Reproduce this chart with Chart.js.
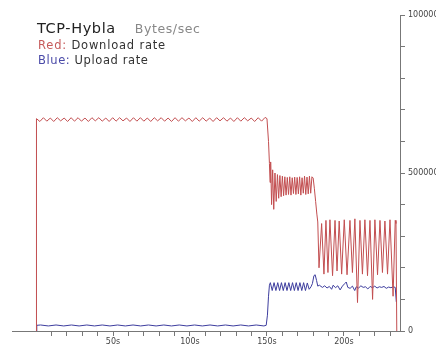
<!DOCTYPE html>
<html>
<head>
<meta charset="utf-8">
<script src="https://cdn.jsdelivr.net/npm/chart.js@4.4.1/dist/chart.umd.min.js"></script>
<style>
  html, body { margin: 0; padding: 0; background: #fff; }
  #wrap { position: relative; width: 436px; height: 348px; overflow: hidden; }
  #c { position: absolute; left: 0; top: 0; }
  .t { position: absolute; font-family: "DejaVu Sans", sans-serif; white-space: nowrap; color: #333; }
  #t1 { left: 37px; top: 20px; font-size: 14.5px; letter-spacing: 0.6px; color: #222; }
  #t1 span { color: #888; font-size: 12.5px; margin-left: 19px; letter-spacing: 0.6px; }
  #t2 { left: 38px; top: 38px; font-size: 11.5px; letter-spacing: 0.8px; }
  #t3 { left: 38px; top: 53px; font-size: 11.5px; letter-spacing: 0.6px; }
  .red { color: #c65b5b; }
  .blue { color: #4a4aa8; }
</style>
</head>
<body>
<div id="wrap">
  <canvas id="c" width="436" height="348"></canvas>
  <div class="t" id="t1">TCP-Hybla<span>Bytes/sec</span></div>
  <div class="t" id="t2"><span class="red">Red:</span> Download rate</div>
  <div class="t" id="t3"><span class="blue">Blue:</span> Upload rate</div>
</div>
<script>
// Download rate (red), thousands of bytes/sec, vertex times in seconds
const downloadTime = [0,0.3,2.5,4.8,7,9.3,11.5,13.8,16,18.3,20.5,22.8,25,27.3,29.5,31.8,34,36.3,38.5,40.8,43,45.3,47.5,49.8,52,54.3,56.5,58.8,61,63.3,65.5,67.8,70,72.3,74.5,76.8,79,81.3,83.5,85.8,88,90.3,92.5,94.8,97,99.3,101.5,103.8,106,108.3,110.5,112.8,115,117.3,119.5,121.8,124,126.3,128.5,130.8,133,135.3,137.5,139.8,142,144.3,146.5,148.8,150,151,151.6,152,152.4,153,153.7,154.4,155.2,156,156.8,157.6,158.4,159.2,160,160.8,161.6,162.4,163.2,164,164.8,165.6,166.4,167.2,168,168.8,169.6,170.4,171.2,172,172.8,173.6,174.4,175.2,176,176.8,177.6,178.4,179.2,180,180.8,181.6,182.4,183,183.8,185.5,187,188.3,189.6,190.9,192.6,194.2,195.5,196.9,198.5,200.2,202,203.9,205.5,207.1,208.8,210.4,212,213.6,215.3,216.9,218.6,220.1,221.8,223.4,225,226.6,228.3,229.9,231.9,233.3,233.8,234.3];
const downloadRate = [0,672,663,675,664,674,663,675,665,674,663,675,664,675,664,674,663,675,665,675,664,674,663,675,664,675,665,674,663,675,664,675,664,674,663,675,665,675,664,674,663,675,664,675,665,674,663,675,664,675,664,674,663,675,665,675,664,674,663,675,664,675,665,674,663,675,664,676,672,600,530,470,535,400,510,385,500,410,495,420,492,425,490,428,488,430,486,432,488,430,485,435,487,432,486,434,488,430,485,436,490,432,487,434,490,436,488,484,450,410,370,345,200,340,180,350,185,352,175,350,190,348,180,352,178,350,185,355,90,350,180,352,175,350,100,352,178,350,185,348,180,352,110,350,340,0];

// Upload rate (blue), thousands of bytes/sec
const uploadTime = [0,0.5,3,8,13,18,23,28,33,38,43,48,53,58,63,68,73,78,83,88,93,98,103,108,113,118,123,128,133,138,143,148,149.5,150.3,151,151.6,152.2,153.4,154.6,155.8,157,158.2,159.4,160.6,161.8,163,164.2,165.4,166.6,167.8,169,170.2,171.4,172.6,173.8,175,176.2,177.4,178.6,179.5,180.5,181.3,182.2,183,184,186,187.5,189,190.5,192,193,194.5,196,197.5,199,200.5,201.5,202.5,204,205.5,207,208,209.5,211,212.5,214,215.5,217,218.5,220,221.5,223,224.5,226,227.5,229,230.5,232,233.3,234];
const uploadRate = [0,18,19,16,19,16,19,16,19,16,19,16,19,16,19,16,19,16,19,16,19,16,19,16,19,16,19,16,19,16,19,16,18,50,110,145,153,128,153,128,153,128,153,128,153,128,153,128,153,128,153,128,153,128,153,128,152,132,140,150,175,178,160,142,145,138,143,136,141,132,145,137,143,130,142,150,155,138,135,142,128,140,136,143,138,140,133,141,137,142,136,140,138,141,135,139,137,140,138,92];

const xTickValues = [10,20,30,40,50,60,70,80,90,100,110,120,130,140,150,160,170,180,190,200,210,220,230];
const yTickValues = [0,100000,200000,300000,400000,500000,600000,700000,800000,900000,1000000];
const yLabelValues = [0,500000,1000000];

const toPoints = (ts, vs) => ts.map((t, i) => ({ x: t, y: vs[i] * 1000 }));

new Chart(document.getElementById('c'), {
  type: 'line',
  data: {
    datasets: [
      { data: toPoints(downloadTime, downloadRate), borderColor: '#c24e50', borderWidth: 1, pointRadius: 0, tension: 0, fill: false },
      { data: toPoints(uploadTime, uploadRate), borderColor: '#3d3d9e', borderWidth: 1, pointRadius: 0, tension: 0, fill: false }
    ]
  },
  options: {
    responsive: false,
    animation: false,
    events: [],
    layout: { padding: { left: 12, top: 15, right: 0, bottom: 0 } },
    plugins: { legend: { display: false }, tooltip: { enabled: false } },
    scales: {
      x: {
        type: 'linear',
        min: -15.6,
        max: 236.4,
        afterBuildTicks: s => { s.ticks = xTickValues.map(v => ({ value: v })); },
        afterFit: s => { s.height = 17; },
        ticks: {
          autoSkip: false, maxRotation: 0, padding: 1,
          color: '#444', font: { family: 'DejaVu Sans', size: 8 },
          callback: v => (v % 50 === 0 ? v + 's' : '')
        },
        grid: { drawOnChartArea: false, drawTicks: true, tickLength: 5, color: '#777' },
        border: { display: true, color: '#777' }
      },
      y: {
        position: 'right',
        min: 0,
        max: 1000000,
        afterBuildTicks: s => { s.ticks = yTickValues.map(v => ({ value: v })); },
        afterFit: s => { s.width = 36; },
        ticks: {
          autoSkip: false, padding: 3,
          color: '#444', font: { family: 'DejaVu Sans', size: 8 },
          callback: v => (yLabelValues.includes(v) ? String(v) : '')
        },
        grid: { drawOnChartArea: false, drawTicks: true, tickLength: 5, color: '#777' },
        border: { display: true, color: '#777' }
      }
    }
  }
});
</script>
</body>
</html>
